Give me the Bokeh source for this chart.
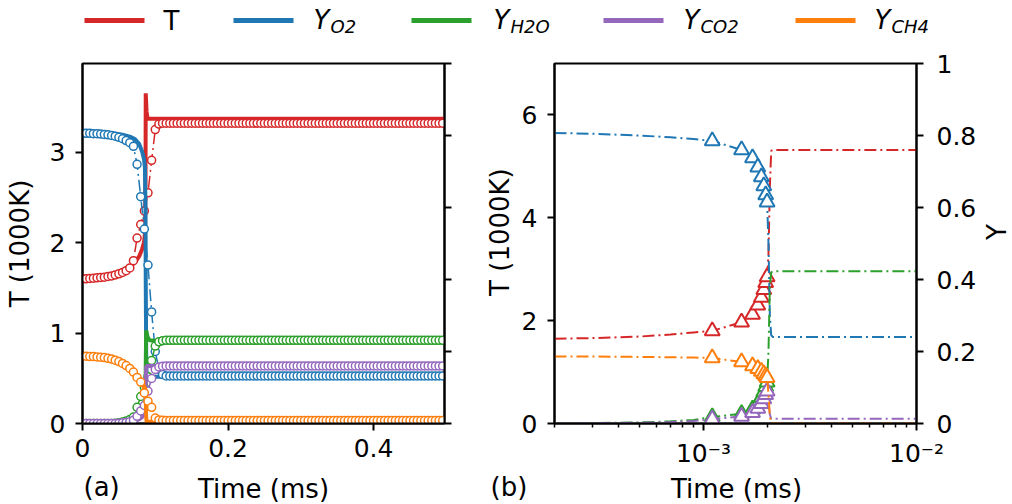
import math
from bokeh.plotting import figure
from bokeh.models import Range1d, LinearAxis, FixedTicker
from bokeh.layouts import column, row
from bokeh.embed import file_html
from bokeh.resources import INLINE
from bokeh.core.properties import value

FONT = "DejaVu Sans"
RED, BLUE, GREEN, PURPLE, ORANGE = "#d62728", "#1f77b4", "#2ca02c", "#9467bd", "#ff7f0e"

# ---------------- data: panel (a) ----------------
# solid curves (time in ms; T in 1000 K; Y mass fractions)
ta_s = [0.0, 0.02, 0.04, 0.055, 0.065, 0.072, 0.078, 0.082, 0.0845, 0.0858, 0.0866,
        0.0869, 0.0875, 0.088, 0.0895, 0.092, 0.1, 0.15, 0.25, 0.35, 0.45, 0.4975]
T_s = [1.61, 1.62, 1.645, 1.685, 1.73, 1.78, 1.85, 1.93, 2.0, 2.1, 2.7,
       3.65, 3.55, 3.45, 3.37, 3.37, 3.37, 3.37, 3.37, 3.37, 3.37, 3.37]
O2_s = [0.81, 0.809, 0.806, 0.802, 0.797, 0.79, 0.776, 0.755, 0.735, 0.71, 0.6,
        0.4, 0.2, 0.14, 0.128, 0.13, 0.13, 0.13, 0.13, 0.13, 0.13, 0.13]
H2O_s = [0.0, 0.0, 0.001, 0.004, 0.008, 0.013, 0.022, 0.03, 0.037, 0.042, 0.08,
         0.16, 0.258, 0.255, 0.24, 0.231, 0.23, 0.23, 0.23, 0.23, 0.23, 0.23]
CO2_s = [0.0, 0.0, 0.001, 0.002, 0.004, 0.007, 0.012, 0.018, 0.024, 0.03, 0.06,
         0.12, 0.155, 0.16, 0.16, 0.16, 0.16, 0.16, 0.16, 0.16, 0.16, 0.16]
CH4_s = [0.187, 0.186, 0.18, 0.168, 0.155, 0.141, 0.126, 0.113, 0.104, 0.098, 0.09,
         0.07, 0.02, 0.006, 0.005, 0.005, 0.005, 0.005, 0.005, 0.005, 0.005, 0.005]

# dash-dot curves with circle markers
ta_c = [0.000, 0.005, 0.010, 0.015, 0.020, 0.025, 0.030, 0.035, 0.040, 0.045,
        0.050, 0.055, 0.060, 0.065, 0.070, 0.075, 0.080, 0.085, 0.090, 0.095,
        0.100, 0.105, 0.110, 0.115, 0.120, 0.125, 0.130, 0.135, 0.140, 0.145,
        0.150, 0.155, 0.160, 0.165, 0.170, 0.175, 0.180, 0.185, 0.190, 0.195,
        0.200, 0.205, 0.210, 0.215, 0.220, 0.225, 0.230, 0.235, 0.240, 0.245,
        0.250, 0.255, 0.260, 0.265, 0.270, 0.275, 0.280, 0.285, 0.290, 0.295,
        0.300, 0.305, 0.310, 0.315, 0.320, 0.325, 0.330, 0.335, 0.340, 0.345,
        0.350, 0.355, 0.360, 0.365, 0.370, 0.375, 0.380, 0.385, 0.390, 0.395,
        0.400, 0.405, 0.410, 0.415, 0.420, 0.425, 0.430, 0.435, 0.440, 0.445,
        0.450, 0.455, 0.460, 0.465, 0.470, 0.475, 0.480, 0.485, 0.490, 0.495]
T_c = [1.600, 1.600, 1.603, 1.606, 1.610, 1.614, 1.618, 1.625, 1.632, 1.642,
       1.655, 1.670, 1.690, 1.720, 1.800, 2.050, 2.200, 2.350, 2.550, 2.910,
       3.250, 3.310, 3.320, 3.320, 3.320, 3.320, 3.320, 3.320, 3.320, 3.320,
       3.320, 3.320, 3.320, 3.320, 3.320, 3.320, 3.320, 3.320, 3.320, 3.320,
       3.320, 3.320, 3.320, 3.320, 3.320, 3.320, 3.320, 3.320, 3.320, 3.320,
       3.320, 3.320, 3.320, 3.320, 3.320, 3.320, 3.320, 3.320, 3.320, 3.320,
       3.320, 3.320, 3.320, 3.320, 3.320, 3.320, 3.320, 3.320, 3.320, 3.320,
       3.320, 3.320, 3.320, 3.320, 3.320, 3.320, 3.320, 3.320, 3.320, 3.320,
       3.320, 3.320, 3.320, 3.320, 3.320, 3.320, 3.320, 3.320, 3.320, 3.320,
       3.320, 3.320, 3.320, 3.320, 3.320, 3.320, 3.320, 3.320, 3.320, 3.320]
O2_c = [0.806, 0.806, 0.806, 0.805, 0.805, 0.804, 0.803, 0.802, 0.800, 0.798,
        0.795, 0.791, 0.786, 0.780, 0.770, 0.720, 0.630, 0.540, 0.440, 0.310,
        0.200, 0.150, 0.136, 0.132, 0.132, 0.132, 0.132, 0.132, 0.132, 0.132,
        0.132, 0.132, 0.132, 0.132, 0.132, 0.132, 0.132, 0.132, 0.132, 0.132,
        0.132, 0.132, 0.132, 0.132, 0.132, 0.132, 0.132, 0.132, 0.132, 0.132,
        0.132, 0.132, 0.132, 0.132, 0.132, 0.132, 0.132, 0.132, 0.132, 0.132,
        0.132, 0.132, 0.132, 0.132, 0.132, 0.132, 0.132, 0.132, 0.132, 0.132,
        0.132, 0.132, 0.132, 0.132, 0.132, 0.132, 0.132, 0.132, 0.132, 0.132,
        0.132, 0.132, 0.132, 0.132, 0.132, 0.132, 0.132, 0.132, 0.132, 0.132,
        0.132, 0.132, 0.132, 0.132, 0.132, 0.132, 0.132, 0.132, 0.132, 0.132]
H2O_c = [0.000, 0.000, 0.000, 0.000, 0.000, 0.000, 0.000, 0.000, 0.000, 0.001,
         0.002, 0.004, 0.007, 0.011, 0.018, 0.045, 0.075, 0.100, 0.130, 0.175,
         0.215, 0.227, 0.230, 0.231, 0.231, 0.231, 0.231, 0.231, 0.231, 0.231,
         0.231, 0.231, 0.231, 0.231, 0.231, 0.231, 0.231, 0.231, 0.231, 0.231,
         0.231, 0.231, 0.231, 0.231, 0.231, 0.231, 0.231, 0.231, 0.231, 0.231,
         0.231, 0.231, 0.231, 0.231, 0.231, 0.231, 0.231, 0.231, 0.231, 0.231,
         0.231, 0.231, 0.231, 0.231, 0.231, 0.231, 0.231, 0.231, 0.231, 0.231,
         0.231, 0.231, 0.231, 0.231, 0.231, 0.231, 0.231, 0.231, 0.231, 0.231,
         0.231, 0.231, 0.231, 0.231, 0.231, 0.231, 0.231, 0.231, 0.231, 0.231,
         0.231, 0.231, 0.231, 0.231, 0.231, 0.231, 0.231, 0.231, 0.231, 0.231]
CO2_c = [0.000, 0.000, 0.000, 0.000, 0.000, 0.000, 0.000, 0.000, 0.000, 0.000,
         0.001, 0.002, 0.003, 0.005, 0.009, 0.020, 0.035, 0.050, 0.090, 0.125,
         0.150, 0.157, 0.159, 0.160, 0.160, 0.160, 0.160, 0.160, 0.160, 0.160,
         0.160, 0.160, 0.160, 0.160, 0.160, 0.160, 0.160, 0.160, 0.160, 0.160,
         0.160, 0.160, 0.160, 0.160, 0.160, 0.160, 0.160, 0.160, 0.160, 0.160,
         0.160, 0.160, 0.160, 0.160, 0.160, 0.160, 0.160, 0.160, 0.160, 0.160,
         0.160, 0.160, 0.160, 0.160, 0.160, 0.160, 0.160, 0.160, 0.160, 0.160,
         0.160, 0.160, 0.160, 0.160, 0.160, 0.160, 0.160, 0.160, 0.160, 0.160,
         0.160, 0.160, 0.160, 0.160, 0.160, 0.160, 0.160, 0.160, 0.160, 0.160,
         0.160, 0.160, 0.160, 0.160, 0.160, 0.160, 0.160, 0.160, 0.160, 0.160]
CH4_c = [0.187, 0.187, 0.186, 0.186, 0.185, 0.184, 0.183, 0.181, 0.179, 0.176,
         0.172, 0.167, 0.161, 0.153, 0.143, 0.128, 0.115, 0.085, 0.062, 0.045,
         0.015, 0.010, 0.009, 0.008, 0.008, 0.008, 0.008, 0.008, 0.008, 0.008,
         0.008, 0.008, 0.008, 0.008, 0.008, 0.008, 0.008, 0.008, 0.008, 0.008,
         0.008, 0.008, 0.008, 0.008, 0.008, 0.008, 0.008, 0.008, 0.008, 0.008,
         0.008, 0.008, 0.008, 0.008, 0.008, 0.008, 0.008, 0.008, 0.008, 0.008,
         0.008, 0.008, 0.008, 0.008, 0.008, 0.008, 0.008, 0.008, 0.008, 0.008,
         0.008, 0.008, 0.008, 0.008, 0.008, 0.008, 0.008, 0.008, 0.008, 0.008,
         0.008, 0.008, 0.008, 0.008, 0.008, 0.008, 0.008, 0.008, 0.008, 0.008,
         0.008, 0.008, 0.008, 0.008, 0.008, 0.008, 0.008, 0.008, 0.008, 0.008]

# ---------------- data: panel (b) ----------------
tb_pre = [2.0e-4, 3.0e-4, 5.0e-4, 7.0e-4, 9.0e-4]
tb_mk = [1.10e-3, 1.51e-3, 1.70e-3, 1.80e-3, 1.87e-3, 1.92e-3, 1.96e-3, 1.99e-3]
tb_post = [2.02e-3, 2.05e-3, 2.08e-3, 2.12e-3, 3.0e-3, 5.0e-3, 1.0e-2]

T_b_pre = [1.65, 1.66, 1.69, 1.73, 1.77]
T_b_mk = [1.80, 1.97, 2.12, 2.30, 2.45, 2.60, 2.74, 2.85]
T_b_post = [3.30, 4.60, 5.30, 5.32, 5.32, 5.32, 5.32]
O2_b_pre = [0.807, 0.805, 0.800, 0.795, 0.790]
O2_b_mk = [0.785, 0.760, 0.738, 0.712, 0.685, 0.660, 0.635, 0.615]
O2_b_post = [0.50, 0.30, 0.245, 0.24, 0.24, 0.24, 0.24]
H2O_b_pre = [0.0, 0.001, 0.003, 0.006, 0.010]
H2O_b_mk = [0.018, 0.027, 0.040, 0.055, 0.072, 0.088, 0.102, 0.115]
H2O_b_post = [0.20, 0.38, 0.42, 0.423, 0.423, 0.423, 0.423]
CO2_b_pre = [0.0, 0.001, 0.002, 0.004, 0.007]
CO2_b_mk = [0.012, 0.020, 0.030, 0.042, 0.055, 0.068, 0.080, 0.090]
CO2_b_post = [0.06, 0.025, 0.013, 0.013, 0.013, 0.013, 0.013]
CH4_b_pre = [0.186, 0.186, 0.185, 0.184, 0.183]
CH4_b_mk = [0.182, 0.171, 0.160, 0.152, 0.145, 0.138, 0.132, 0.127]
CH4_b_post = [0.08, 0.02, 0.0, 0.0, 0.0, 0.0, 0.0]

# ticks / labels
xa_ticks = [0, 0.2, 0.4]
xa_labels = {0: "0", 0.2: "0.2", 0.4: "0.4"}
Ta_ticks = [0, 1, 2, 3]
Tb_ticks = [0, 2, 4, 6]
Y_ticks = [0, 0.2, 0.4, 0.6, 0.8, 1]
Y_labels = {0: "0", 0.2: "0.2", 0.4: "0.4", 0.6: "0.6", 0.8: "0.8", 1: "1"}
xb_ticks = [1e-3, 1e-2]
xb_labels = {1e-3: "10\u207b\u00b3", 1e-2: "10\u207b\u00b2"}
xb_minor = [2e-4, 3e-4, 4e-4, 5e-4, 6e-4, 7e-4, 8e-4, 9e-4,
            2e-3, 3e-3, 4e-3, 5e-3, 6e-3, 7e-3, 8e-3, 9e-3]

legend_main = ["T", "Y", "Y", "Y", "Y"]
legend_sub = ["", "O2", "H2O", "CO2", "CH4"]
legend_colors = [RED, BLUE, GREEN, PURPLE, ORANGE]

for arr in (T_c, O2_c, H2O_c, CO2_c, CH4_c):
    assert len(arr) == len(ta_c)
for arr in (T_s, O2_s, H2O_s, CO2_s, CH4_s):
    assert len(arr) == len(ta_s)


def style_axis(ax):
    ax.axis_line_width = 2
    ax.axis_line_color = "black"
    ax.major_tick_line_width = 2
    ax.major_tick_line_color = "black"
    ax.major_tick_out = 7
    ax.major_tick_in = 0
    ax.minor_tick_line_color = None
    ax.major_label_text_font = FONT
    ax.major_label_text_font_size = "25px"
    ax.major_label_text_color = "black"
    ax.axis_label_text_font = FONT
    ax.axis_label_text_font_size = "26px"
    ax.axis_label_text_font_style = "normal"
    ax.axis_label_text_color = "black"


def hide_labels(ax, ticks):
    ax.major_label_overrides = {t: "" for t in ticks}
    ax.major_label_text_color = None
    ax.major_label_standoff = 0


PANEL_H = 425


def base_fig(width, xr, yr, mbl, mbr, **kw):
    p = figure(width=width, height=PANEL_H, x_range=xr, y_range=yr,
               output_backend="svg", toolbar_location=None,
               min_border_left=mbl, min_border_right=mbr,
               min_border_top=18, min_border_bottom=45, **kw)
    p.xgrid.visible = False
    p.ygrid.visible = False
    p.outline_line_color = "black"
    p.outline_line_width = 2
    p.outline_line_alpha = 1.0
    p.background_fill_color = "white"
    p.border_fill_color = "white"
    p.extra_y_ranges = {"Y": Range1d(0, 1)}
    for ax in p.xaxis + p.yaxis:
        style_axis(ax)
    return p


def text_strip(width, height):
    s = figure(width=width, height=height, x_range=Range1d(0, width),
               y_range=Range1d(0, height), output_backend="svg",
               toolbar_location=None, min_border=0, x_axis_location=None,
               y_axis_location=None, outline_line_color=None)
    s.xgrid.visible = False
    s.ygrid.visible = False
    return s


DASH = "12 4 2 4"

# ---------------- panel (a) ----------------
pa = base_fig(478, Range1d(0, 0.4975), Range1d(0, 3.98), 82, 34)
pa.xaxis.ticker = FixedTicker(ticks=xa_ticks)
pa.xaxis.major_label_overrides = xa_labels
pa.xaxis.major_label_standoff = 8
pa.yaxis.ticker = FixedTicker(ticks=Ta_ticks)
pa.yaxis.major_label_standoff = 10
pa.yaxis.axis_label = "T (1000K)"
pa.yaxis.axis_label_standoff = 12
ra = LinearAxis(y_range_name="Y", ticker=FixedTicker(ticks=Y_ticks))
style_axis(ra)
hide_labels(ra, Y_ticks)
pa.add_layout(ra, "right")

series_a = [
    (T_s, T_c, RED, "default"),
    (O2_s, O2_c, BLUE, "Y"),
    (H2O_s, H2O_c, GREEN, "Y"),
    (CO2_s, CO2_c, PURPLE, "Y"),
    (CH4_s, CH4_c, ORANGE, "Y"),
]
for ys, yc, col, rng in series_a:
    pa.line(ta_s, ys, line_color=col, line_width=4, y_range_name=rng)
    pa.line(ta_c, yc, line_color=col, line_width=1.5, line_dash=DASH, y_range_name=rng)
    pa.scatter(ta_c, yc, marker="circle", size=8, line_color=col, line_width=1.5,
               fill_color="white", y_range_name=rng)

# ---------------- panel (b) ----------------
pb = base_fig(465, Range1d(2e-4, 1e-2), Range1d(0, 7), 40, 61, x_axis_type="log")
pb.xaxis.ticker = FixedTicker(ticks=xb_ticks, minor_ticks=xb_minor)
pb.xaxis.major_label_overrides = xb_labels
pb.xaxis.major_label_standoff = 8
pb.xaxis.minor_tick_line_color = "black"
pb.xaxis.minor_tick_line_width = 1.5
pb.xaxis.minor_tick_out = 4
pb.xaxis.minor_tick_in = 0
pb.yaxis.ticker = FixedTicker(ticks=Tb_ticks)
pb.yaxis.major_label_standoff = 10
rb = LinearAxis(y_range_name="Y", ticker=FixedTicker(ticks=Y_ticks))
style_axis(rb)
rb.major_label_overrides = Y_labels
rb.major_label_standoff = 13
pb.add_layout(rb, "right")

series_b = [
    (T_b_pre, T_b_mk, T_b_post, RED, "default"),
    (O2_b_pre, O2_b_mk, O2_b_post, BLUE, "Y"),
    (H2O_b_pre, H2O_b_mk, H2O_b_post, GREEN, "Y"),
    (CO2_b_pre, CO2_b_mk, CO2_b_post, PURPLE, "Y"),
    (CH4_b_pre, CH4_b_mk, CH4_b_post, ORANGE, "Y"),
]
tb_all = tb_pre + tb_mk + tb_post
for pre, mk, post, col, rng in series_b:
    pb.line(tb_all, pre + mk + post, line_color=col, line_width=2, line_dash=DASH,
            y_range_name=rng)
    pb.scatter(tb_mk, mk, marker="triangle", size=15, line_color=col, line_width=2,
               fill_color="white", y_range_name=rng)

# ---------------- side strips holding the axis titles of panel (b) ----------------
vs1 = text_strip(36, PANEL_H)
vs1.text(x=[21], y=[226], text=["T (1000K)"], angle=math.pi / 2, text_font=value(FONT),
         text_font_size="26px", text_color="black", text_align="center",
         text_baseline="middle")
vs2 = text_strip(33, PANEL_H)
vs2.text(x=[17], y=[226], text=["Y"], angle=math.pi / 2, text_font=value(FONT),
         text_font_size="26px", text_color="black", text_align="center",
         text_baseline="middle")

# ---------------- legend strip ----------------
pl = text_strip(1012, 45)
leg_x0 = [84, 233, 411, 603, 795]
leg_tx = [163, 313, 493, 683, 874]
pl.segment(x0=leg_x0, y0=[25] * 5, x1=[x + 60 for x in leg_x0], y1=[25] * 5,
           line_color=legend_colors, line_width=5)
pl.text(x=leg_tx[:1], y=[25], text=legend_main[:1], text_font=value(FONT),
        text_font_size="26px", text_color="black", text_baseline="alphabetic")
pl.text(x=leg_tx[1:], y=[26] * 4, text=legend_main[1:], text_font=value(FONT),
        text_font_size="26px", text_font_style="italic", text_color="black",
        text_baseline="alphabetic")
pl.text(x=[x + 17 for x in leg_tx[1:]], y=[19] * 4, text=legend_sub[1:],
        text_font=value(FONT), text_font_size="18px", text_font_style="italic",
        text_color="black", text_baseline="alphabetic")

# ---------------- bottom strip: x titles and panel tags ----------------
bs = text_strip(1012, 34)
bs.text(x=[263, 736], y=[16, 16], text=["Time (ms)", "Time (ms)"], text_font=value(FONT),
        text_font_size="26px", text_color="black", text_align="center",
        text_baseline="alphabetic")
bs.text(x=[83, 490], y=[18, 18], text=["(a)", "(b)"], text_font=value(FONT),
        text_font_size="26px", text_color="black", text_align="left",
        text_baseline="alphabetic")

layout = column(pl, row(pa, vs1, pb, vs2, spacing=0), bs, spacing=0)
open("out.html", "w").write(file_html(layout, INLINE))
